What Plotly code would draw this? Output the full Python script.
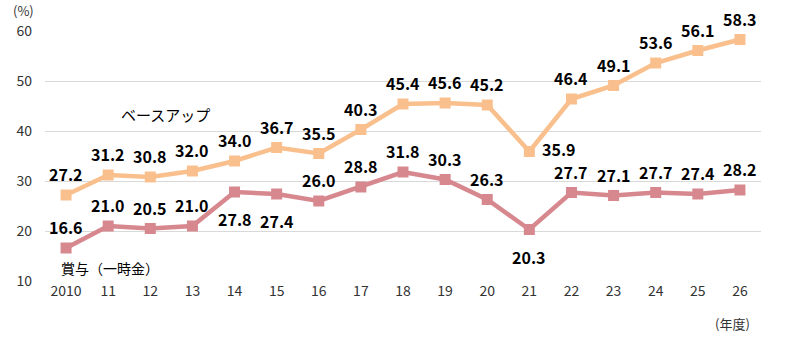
import plotly.graph_objects as go

years = ["2010", "11", "12", "13", "14", "15", "16", "17", "18", "19", "20", "21", "22", "23", "24", "25", "26"]
base_up = [27.2, 31.2, 30.8, 32.0, 34.0, 36.7, 35.5, 40.3, 45.4, 45.6, 45.2, 35.9, 46.4, 49.1, 53.6, 56.1, 58.3]
bonus = [16.6, 21.0, 20.5, 21.0, 27.8, 27.4, 26.0, 28.8, 31.8, 30.3, 26.3, 20.3, 27.7, 27.1, 27.7, 27.4, 28.2]
y_ticks = [10, 20, 30, 40, 50, 60]

# label placement: "a" above, "b" below, "r" right
base_pos = ["a"] * 11 + ["r"] + ["a"] * 5
bonus_pos = ["a", "a", "a", "a", "b", "b", "a", "a", "a", "a", "a", "b", "a", "a", "a", "a", "a"]

orange = "#F9C08E"
pink = "#D7888E"
font = "Noto Sans CJK JP"

fig = go.Figure()
fig.add_trace(go.Scatter(x=years, y=base_up, mode="lines+markers",
                         line=dict(color=orange, width=4.5),
                         marker=dict(symbol="square", size=11, color=orange),
                         showlegend=False, hoverinfo="skip"))
fig.add_trace(go.Scatter(x=years, y=bonus, mode="lines+markers",
                         line=dict(color=pink, width=4.5),
                         marker=dict(symbol="square", size=11, color=pink),
                         showlegend=False, hoverinfo="skip"))

shifts = {"a": (0, 21), "b": (0, -27), "r": (30, 3)}
for vals, poss in ((base_up, base_pos), (bonus, bonus_pos)):
    for i, (v, p) in enumerate(zip(vals, poss)):
        xs, ys = shifts[p]
        fig.add_annotation(x=i, y=v, text=f"<b>{v:.1f}</b>", showarrow=False,
                           xshift=xs, yshift=ys,
                           font=dict(family=font, size=16, color="#000000"))

fig.add_annotation(xref="paper", yref="paper", x=-0.03, y=1.08, text="(%)",
                   showarrow=False, xanchor="center", yanchor="middle",
                   font=dict(family=font, size=13, color="#333333"))
fig.add_annotation(xref="paper", yref="paper", x=0.96, y=-0.17, text="(年度)",
                   showarrow=False, xanchor="center", yanchor="middle",
                   font=dict(family=font, size=13, color="#333333"))
fig.add_annotation(x=2.35, y=43.3, text="ベースアップ", showarrow=False,
                   xanchor="center", font=dict(family=font, size=15, color="#000000"))
fig.add_annotation(x=1.04, y=12.6, text="賞与（一時金）", showarrow=False,
                   xanchor="center", font=dict(family=font, size=14, color="#000000"))

fig.update_layout(
    width=797, height=342,
    margin=dict(l=45, r=36, t=31, b=61),
    plot_bgcolor="white", paper_bgcolor="white",
    xaxis=dict(type="category", showgrid=False, showline=False, ticks="",
               tickfont=dict(family=font, size=14, color="#333333"),
               range=[-0.5, 16.5]),
    yaxis=dict(range=[10, 60], tickvals=y_ticks, showgrid=True, gridcolor="#D9D9D9",
               gridwidth=1, zeroline=False, showline=False, ticks="",
               ticklabelstandoff=12,
               tickfont=dict(family=font, size=14, color="#333333")),
)

fig.write_html("out.html")
